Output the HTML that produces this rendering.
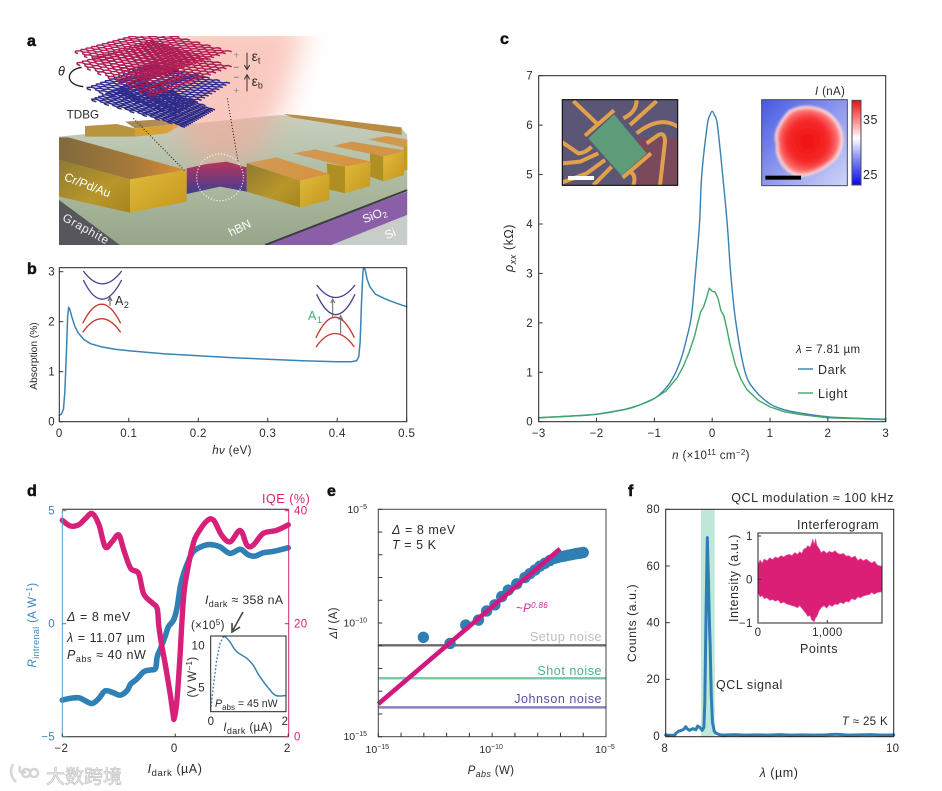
<!DOCTYPE html>
<html lang="en">
<head>
<meta charset="utf-8">
<title>TDBG photodetector figure</title>
<style>
html,body{margin:0;padding:0;background:#fff;width:942px;height:791px;overflow:hidden}
svg{display:block;font-family:"Liberation Sans","Noto Sans CJK SC",sans-serif;fill:#2b2b2b}
.t{font-size:11.5px;letter-spacing:.35px}
.l{font-size:12.5px;letter-spacing:.55px}
.e{font-size:10.5px}
.p{font-size:16px;font-weight:bold;stroke:#111;stroke-width:.5px;fill:#111}
.i{font-style:italic}
</style>
</head>
<body>
<svg id="fig" xmlns="http://www.w3.org/2000/svg" width="942" height="791" viewBox="0 0 942 791">
<defs>
<clipPath id="clipA"><rect x="117" y="48" width="1045" height="627"/></clipPath>
<filter id="blur30" x="-60%" y="-60%" width="220%" height="220%"><feGaussianBlur stdDeviation="42"/></filter>
<filter id="blur3" x="-30%" y="-30%" width="160%" height="160%"><feGaussianBlur stdDeviation="4"/></filter>
<filter id="blurMap" x="-30%" y="-30%" width="160%" height="160%"><feGaussianBlur stdDeviation="6"/></filter>
<linearGradient id="surf" x1="0" y1="0" x2="0" y2="1"><stop offset="0" stop-color="#c8d0bf"/><stop offset=".5" stop-color="#adbba2"/><stop offset="1" stop-color="#97a68a"/></linearGradient>
<linearGradient id="goldFront" x1="0" y1="0" x2="1" y2="1"><stop offset="0" stop-color="#8f7a30"/><stop offset=".6" stop-color="#b8962a"/><stop offset="1" stop-color="#a5861c"/></linearGradient>
<linearGradient id="goldSide" x1="0" y1="0" x2="1" y2="1"><stop offset="0" stop-color="#e0bb3a"/><stop offset="1" stop-color="#c4961e"/></linearGradient>
<linearGradient id="goldTop" x1="0" y1="0" x2="1" y2="0"><stop offset="0" stop-color="#7f6a3c"/><stop offset=".6" stop-color="#a87a38"/><stop offset="1" stop-color="#dc8e34"/></linearGradient>
<linearGradient id="goldTop2" x1="0" y1="0" x2="1" y2="0"><stop offset="0" stop-color="#cf9a5c"/><stop offset="1" stop-color="#d99238"/></linearGradient>
<linearGradient id="trench" x1="0" y1="0" x2="0" y2="1"><stop offset="0" stop-color="#b8345a"/><stop offset="1" stop-color="#3d3d95"/></linearGradient>
<linearGradient id="cbar" x1="0" y1="0" x2="0" y2="1"><stop offset="0" stop-color="#e81010"/><stop offset=".25" stop-color="#ff9090"/><stop offset=".45" stop-color="#ffffff"/><stop offset=".7" stop-color="#8088f0"/><stop offset="1" stop-color="#0808e8"/></linearGradient>
<linearGradient id="mapBg" x1="0" y1="0" x2="1" y2="1"><stop offset="0" stop-color="#4458e4"/><stop offset=".5" stop-color="#8e98ee"/><stop offset="1" stop-color="#d0d5f8"/></linearGradient>
<radialGradient id="blob" cx=".48" cy=".5" r=".56"><stop offset="0" stop-color="#f01010"/><stop offset=".6" stop-color="#f62a2a"/><stop offset="1" stop-color="#ffa0a0"/></radialGradient>
<clipPath id="clipPhoto"><rect x="217" y="224" width="346" height="257"/></clipPath>
<clipPath id="clipMap"><rect x="815" y="224" width="257" height="258"/></clipPath>
</defs>

<!-- panel a -->
<g id="panelA" transform="translate(20 20) scale(.33333)">
<g clip-path="url(#clipA)">
<polygon points="117,350 780,285 1145,325 1162,345 1162,520 750,675 300,675 117,545" fill="url(#surf)"/>
<polygon points="117,540 300,675 117,675" fill="#57565c"/>
<polygon points="735,675 1162,515 1162,585 935,675" fill="#8a5fa8"/>
<polyline points="735,675 1162,510" fill="none" stroke="#3c3c40" stroke-width="6"/>
<polygon points="935,675 1162,585 1162,675" fill="#c9cdc9"/>
<polygon points="790,282 830,285 1145,322 1145,345 1100,338 815,292" fill="#b98c44"/>
<polygon points="195,318 290,312 345,325 345,350 195,350" fill="#b8943c"/>
<polygon points="315,305 420,298 490,310 345,325" fill="#a98a55"/>
<polygon points="345,325 490,310 440,340 345,350" fill="#d8a030"/>
<polygon points="470,0 860,0 790,260 690,430 530,430 440,260" fill="#f6a899" opacity=".62" filter="url(#blur30)"/>
<polygon points="1045,358 1100,348 1170,360 1170,378 1150,382" fill="#cf9a50"/>
<polygon points="1150,380 1170,376 1170,448 1150,452" fill="#c49a20"/>
<polygon points="940,378 995,365 1160,392 1090,410" fill="#d09548"/>
<polygon points="1050,400 1090,410 1090,484 1050,470" fill="#b08f22"/>
<polygon points="1090,410 1152,394 1152,465 1090,484" fill="url(#goldSide)"/>
<polygon points="820,400 885,388 1055,425 975,440" fill="url(#goldTop2)"/>
<polygon points="920,430 975,440 975,520 925,508" fill="#b08f22"/>
<polygon points="975,440 1052,425 1050,498 975,520" fill="url(#goldSide)"/>
<polygon points="680,430 770,412 928,462 840,482" fill="url(#goldTop2)"/>
<polygon points="680,430 840,482 840,562 680,515" fill="url(#goldFront)"/>
<polygon points="840,482 928,462 928,540 840,562" fill="url(#goldSide)"/>
<polygon points="500,445 560,432 620,425 680,442 680,515 600,500 500,522" fill="url(#trench)"/>
<polygon points="117,352 145,352 498,450 330,478 117,420" fill="url(#goldTop)"/>
<polygon points="117,420 330,478 330,578 117,530" fill="url(#goldFront)"/>
<polygon points="330,478 500,450 500,545 330,578" fill="url(#goldSide)"/>
<circle cx="600" cy="472" r="70" fill="none" stroke="#fff" stroke-width="3.5" stroke-dasharray="3 6"/>
<g id="lattices"></g>
<line x1="340" y1="295" x2="497" y2="455" stroke="#111" stroke-width="3" stroke-dasharray="3 6"/>
<line x1="622" y1="235" x2="655" y2="430" stroke="#111" stroke-width="3" stroke-dasharray="3 6"/>
</g>
<path d="M185,142 C135,150 135,195 190,200" fill="none" stroke="#222" stroke-width="4"/>
<text x="114" y="167" font-size="38" class="i" fill="#222">θ</text>
<text x="140" y="295" font-size="35">TDBG</text>
<text x="640" y="116" font-size="30" fill="#8a8a8a">+</text>
<text x="640" y="152" font-size="30" fill="#666">−</text>
<text x="640" y="182" font-size="30" fill="#666">−</text>
<text x="640" y="222" font-size="30" fill="#8a8a8a">+</text>
<path d="M681,98 V145 M673,135 L681,149 L689,135" fill="none" stroke="#333" stroke-width="3"/>
<path d="M681,214 V168 M673,178 L681,164 L689,178" fill="none" stroke="#333" stroke-width="3"/>
<text x="695" y="123" font-size="42">ε<tspan font-size="27" dy="8">t</tspan></text>
<text x="695" y="198" font-size="42">ε<tspan font-size="27" dy="8">b</tspan></text>
<text transform="translate(130 480) rotate(21)" font-size="36" fill="#fff">Cr/Pd/Au</text>
<text transform="translate(125 600) rotate(29)" font-size="36" fill="#eee" letter-spacing="2">Graphite</text>
<text transform="translate(633 650) rotate(-26)" font-size="36" fill="#fff">hBN</text>
<text transform="translate(1033 610) rotate(-21)" font-size="36" fill="#fff">SiO<tspan font-size="25" dy="7">2</tspan></text>
<text transform="translate(1100 658) rotate(-21)" font-size="36" fill="#fff">Si</text>
</g>

<text class="p" x="27" y="46">a</text>
<text class="p" x="27" y="274">b</text>
<text class="p" x="500" y="44">c</text>
<text class="p" x="27" y="496">d</text>
<text class="p" x="327" y="496">e</text>
<text class="p" x="628" y="496">f</text>

<!-- panel b -->
<g id="panelB"></g>
<g transform="translate(20 255) scale(.33333)" fill="none" stroke-width="4">
<path d="M190,48 Q247,125 305,48" stroke="#4a3f90"/>
<path d="M190,75 Q245,190 305,75" stroke="#4a3f90"/>
<path d="M188,205 Q245,90 302,205" stroke="#c23a2c"/>
<path d="M188,232 Q245,150 302,232" stroke="#c23a2c"/>
<path d="M270,152 V132 M264,138 L270,126 L276,138" stroke="#555" stroke-width="3"/>
<path d="M890,90 Q947,165 1005,90" stroke="#4a3f90"/>
<path d="M890,118 Q947,240 1005,118" stroke="#4a3f90"/>
<path d="M888,248 Q945,125 1003,248" stroke="#c23a2c"/>
<path d="M888,276 Q945,195 1003,276" stroke="#c23a2c"/>
<path d="M938,190 V138 M932,144 L938,132 L944,144" stroke="#666" stroke-width="3"/>
<path d="M962,238 V188 M956,194 L962,182 L968,194" stroke="#666" stroke-width="3"/>
</g>
<text class="l" x="115" y="305">A<tspan font-size="9" dy="3">2</tspan></text>
<text class="l" x="308" y="320" fill="#3fae72">A<tspan font-size="9" dy="3">1</tspan></text>
<text class="t" x="232" y="454" text-anchor="middle"><tspan class="i">hν</tspan> (eV)</text>
<text font-size="10.2" transform="translate(37 356) rotate(-90)" text-anchor="middle">Absorption (%)</text>

<!-- panel c -->
<g id="panelC"></g>
<text class="t" x="711" y="459" text-anchor="middle"><tspan class="i">n</tspan> (×10<tspan font-size="8" dy="-4">11</tspan><tspan dy="4"> cm</tspan><tspan font-size="8" dy="-4">−2</tspan><tspan dy="4">)</tspan></text>
<text class="l" transform="translate(513 248) rotate(-90)" text-anchor="middle"><tspan class="i">ρ</tspan><tspan class="i" font-size="9" dy="3">xx</tspan><tspan dy="-3"> (kΩ)</tspan></text>
<text class="t" x="796" y="353"><tspan class="i">λ</tspan> = 7.81 µm</text>
<line x1="798" y1="369" x2="813" y2="369" stroke="#3a80b2" stroke-width="1.4"/>
<text class="l" x="818" y="374">Dark</text>
<line x1="798" y1="393" x2="813" y2="393" stroke="#3fa768" stroke-width="1.4"/>
<text class="l" x="818" y="398">Light</text>

<g transform="translate(490 25) scale(.33333)">
<g clip-path="url(#clipPhoto)">
<rect x="217" y="224" width="346" height="257" fill="#5b5676"/>
<rect x="440" y="340" width="123" height="141" fill="#7a4a5c"/>
<g fill="none" stroke="#e0a04c" stroke-width="12">
<path d="M250,228 L320,295"/>
<path d="M400,280 Q440,262 440,224"/>
<path d="M420,300 L500,228"/>
<path d="M440,325 Q510,270 563,305"/>
<path d="M470,355 L505,330 Q525,320 525,350 L510,481"/>
<path d="M217,352 L265,385 Q285,385 305,365"/>
<path d="M217,415 L270,410 L325,385"/>
<path d="M217,472 L290,445 L345,405"/>
<path d="M310,481 L365,425"/>
<path d="M420,440 Q440,450 430,481"/>
</g>
<polygon points="295,340 372,268 470,385 395,452" fill="#5e9c79"/>
<line x1="285" y1="332" x2="372" y2="256" stroke="#e0a04c" stroke-width="12"/>
<line x1="398" y1="458" x2="483" y2="385" stroke="#e0a04c" stroke-width="12"/>
<rect x="234" y="453" width="78" height="12" fill="#fff"/>
</g>
<rect x="217" y="224" width="346" height="257" fill="none" stroke="#111" stroke-width="3.5"/>
</g>

<g transform="translate(490 25) scale(.33333)">
<g clip-path="url(#clipMap)">
<rect x="815" y="224" width="257" height="258" fill="url(#mapBg)"/>
<path d="M900,262 C950,235 1010,255 1035,290 C1065,330 1055,385 1020,410 C990,435 945,455 915,445 C880,430 860,390 865,355 C855,335 865,300 900,262 Z" fill="#fff" stroke="#fff" stroke-width="12" filter="url(#blur3)"/>
<path d="M900,262 C950,235 1010,255 1035,290 C1065,330 1055,385 1020,410 C990,435 945,455 915,445 C880,430 860,390 865,355 C855,335 865,300 900,262 Z" fill="url(#blob)" filter="url(#blurMap)"/>
<rect x="826" y="452" width="107" height="12" fill="#000"/>
</g>
<rect x="815" y="224" width="257" height="258" fill="none" stroke="#45495e" stroke-width="3"/>
<rect x="1086" y="226" width="27" height="254" fill="url(#cbar)" stroke="#45495e" stroke-width="3"/>
</g>
<text class="t" x="815" y="95"><tspan class="i">I</tspan> (nA)</text>
<text class="l" x="863" y="124">35</text>
<text class="l" x="863" y="179">25</text>

<!-- panel d -->
<g id="panelD"></g>
<text class="l" x="262" y="503" fill="#d6246e">IQE (%)</text>
<text class="l" x="175" y="773" text-anchor="middle"><tspan class="i">I</tspan><tspan font-size="9.5" dy="3">dark</tspan><tspan dy="-3"> (µA)</tspan></text>
<text class="t" transform="translate(36 625) rotate(-90)" text-anchor="middle" fill="#3a86b7"><tspan class="i">R</tspan><tspan font-size="9" dy="3">intrenal</tspan><tspan dy="-3"> (A W</tspan><tspan font-size="8" dy="-4">−1</tspan><tspan dy="4">)</tspan></text>
<text class="l" x="67" y="621"><tspan class="i">Δ</tspan> = 8 meV</text>
<text class="l" x="67" y="642"><tspan class="i">λ</tspan> = 11.07 µm</text>
<text class="l" x="67" y="659"><tspan class="i">P</tspan><tspan font-size="9" dy="3">abs</tspan><tspan dy="-3"> ≈ 40 nW</tspan></text>
<text font-size="12.3" letter-spacing=".35" x="205" y="604"><tspan class="i">I</tspan><tspan font-size="9" dy="3">dark</tspan><tspan dy="-3"> ≈ 358 nA</tspan></text>
<text class="t" x="191" y="629">(×10<tspan font-size="8" dy="-4">5</tspan><tspan dy="4">)</tspan></text>
<path d="M243,612 L233,630 M232,623 L232,632 L240,627" fill="none" stroke="#444" stroke-width="1.6"/>
<g id="insetD"></g>
<text class="t" transform="translate(196 677) rotate(-90)" text-anchor="middle">(V W<tspan font-size="8" dy="-4">−1</tspan><tspan dy="4">)</tspan></text>
<text class="t" x="248" y="731" text-anchor="middle"><tspan class="i">I</tspan><tspan font-size="9" dy="3">dark</tspan><tspan dy="-3"> (µA)</tspan></text>
<text font-size="10.6" x="215" y="707"><tspan class="i">P</tspan><tspan font-size="8" dy="3">abs</tspan><tspan dy="-3"> = 45 nW</tspan></text>

<!-- panel e -->
<g id="panelE"></g>
<text class="t" x="491" y="774" text-anchor="middle"><tspan class="i">P</tspan><tspan class="i" font-size="9" dy="3">abs</tspan><tspan dy="-3"> (W)</tspan></text>
<text class="t" transform="translate(337 623) rotate(-90)" text-anchor="middle"><tspan class="i">ΔI</tspan> (A)</text>
<text class="l" x="392" y="534"><tspan class="i">Δ</tspan> = 8 meV</text>
<text class="l" x="392" y="549"><tspan class="i">T</tspan> = 5 K</text>
<text class="t" x="516" y="612" fill="#c82a90" font-style="italic" font-size="10">~<tspan>P</tspan><tspan font-size="8" dy="-4">0.86</tspan></text>
<text class="l" x="602" y="641" text-anchor="end" fill="#bdbdbd">Setup noise</text>
<text class="l" x="602" y="675" text-anchor="end" fill="#45b583">Shot noise</text>
<text class="l" x="602" y="703" text-anchor="end" fill="#5b4fa0">Johnson noise</text>

<!-- panel f -->
<g id="panelF"></g>
<text class="l" x="894" y="502" text-anchor="end">QCL modulation ≈ 100 kHz</text>
<text class="l" x="779" y="777" text-anchor="middle"><tspan class="i">λ</tspan> (µm)</text>
<text font-size="12.3" letter-spacing=".55" transform="translate(636 623) rotate(-90)" text-anchor="middle">Counts (a.u.)</text>
<text class="l" x="716" y="689">QCL signal</text>
<text class="t" x="888" y="725" text-anchor="end"><tspan class="i">T</tspan> ≈ 25 K</text>
<text class="l" x="797" y="529">Interferogram</text>
<g id="insetF"></g>
<text class="l" x="819" y="653" text-anchor="middle">Points</text>
<text class="l" transform="translate(738 578) rotate(-90)" text-anchor="middle">Intensity (a.u.)</text>

<!-- watermark -->
<g>
<path d="M13,764 Q8,774 16,782 M20,766 Q18,775 26,772 M26,769 a4,4 0 1 0 .1,0 M34,769 a4,4 0 1 0 .1,0" fill="none" stroke="#d4d4d4" stroke-width="2.4"/>
<text x="46" y="783" font-size="19" fill="#f0f0f0" stroke="#c4c4c4" stroke-width=".7" font-family="&quot;Noto Sans CJK SC&quot;,sans-serif">大数跨境</text>
</g>
</svg>

<script>
// ---- panel b data ----
const bEnergy = [0,.003,.006,.008,.01,.012,.0135,.015,.018,.022,.027,.035,.045,.06,.08,.1,.15,.2,.25,.3,.35,.4,.42,.428,.431,.433,.435,.437,.438,.44,.443,.447,.455,.47,.485,.5];
const bAbsorption = [.13,.15,.25,.6,1.3,2.1,2.29,2.25,2.1,1.92,1.78,1.65,1.56,1.5,1.45,1.42,1.36,1.32,1.28,1.25,1.22,1.2,1.2,1.22,1.3,1.6,2.4,3.0,3.08,3.05,2.85,2.7,2.55,2.45,2.37,2.3];
const bXTicks = [0,.1,.2,.3,.4,.5];
const bXLabels = ['0','0.1','0.2','0.3','0.4','0.5'];
const bYTicks = [0,1,2,3];
// ---- panel c data ----
const cDensity = [-3,-2.5,-2,-1.5,-1.25,-1,-.8,-.65,-.53,-.45,-.36,-.29,-.22,-.18,-.085,-.04,0,.04,.09,.18,.26,.32,.41,.57,.75,1,1.25,1.5,2,2.5,3];
const cDark = [.08,.11,.15,.25,.34,.47,.68,.95,1.3,1.65,2.13,3,4,5,6,6.2,6.28,6.2,6,5,4,3,2,1,.62,.36,.24,.18,.1,.07,.05];
const cLightDensity = [-3,-2.5,-2,-1.5,-1.25,-1,-.8,-.6,-.5,-.4,-.3,-.25,-.2,-.15,-.1,-.05,0,.05,.1,.15,.2,.25,.3,.4,.5,.6,.8,1,1.25,1.5,2,2.5,3];
const cLight = [.08,.11,.15,.25,.34,.47,.62,.9,1.12,1.4,1.75,2,2.22,2.32,2.5,2.7,2.64,2.62,2.5,2.25,2.15,1.9,1.6,1.15,.85,.65,.43,.3,.2,.15,.08,.06,.04];
const cXTicks = [-3,-2,-1,0,1,2,3];
const cYTicks = [0,1,2,3,4,5,6,7];
// ---- panel d data ----
const dRCurrent = [-2,-1.85,-1.7,-1.6,-1.47,-1.35,-1.24,-1.1,-.97,-.85,-.79,-.68,-.56,-.45,-.35,-.32,-.26,-.18,-.12,-.03,.03,.09,.15,.24,.32,.47,.62,.79,.97,1.15,1.29,1.41,1.56,1.74,2];
const dResponsivity = [-3.38,-3.3,-3.28,-3.4,-3.53,-3.3,-2.97,-3.05,-3.16,-2.95,-2.67,-2.45,-2.13,-2.05,-1.98,-1.47,-1.09,-.57,-.13,.16,.68,1.64,2.23,2.82,3.19,3.42,3.5,3.4,3.11,3.29,3.05,2.99,3.14,3.2,3.36];
const dIqeCurrent = [-2,-1.86,-1.71,-1.59,-1.47,-1.35,-1.24,-1.12,-1,-.91,-.79,-.65,-.56,-.41,-.32,-.29,-.235,-.18,-.09,-.04,-.02,.03,.08,.15,.24,.32,.38,.56,.68,.82,.97,1.15,1.27,1.38,1.56,1.79,2];
const dIqe = [38.3,37.3,37.5,38.6,39.5,37.5,33.6,34.5,35.7,33,29.8,28.9,25.3,23.7,22.7,19.5,15.9,13,7.6,4.1,3.2,6.5,13.6,25,30.7,34.2,35.7,38.2,38.3,35.7,34.5,36.5,33.9,33.9,36,36.5,37.5];
const dXTicks = [-2,0,2];
const dRTicks = [-5,0,5];
const dIqeTicks = [0,20,40];
const dRiseCurrent = [0,.07,.16,.25,.34];
const dRiseValue = [2.28,5.08,8.28,10.28,11.08];
const dFallCurrent = [.38,.51,.69,.96,1.13,1.31,1.58,1.75,2];
const dFallValue = [11.1,10.5,9.3,8.5,7.7,6.3,4.7,4,4];
// ---- panel e data ----
const ePowerExp = [-13.02,-11.85,-11.16,-10.6,-10.24,-9.88,-9.58,-9.29,-8.92,-8.56,-8.34,-8.12,-7.9,-7.68,-7.46,-7.24,-7.1,-6.95,-6.8,-6.65,-6.5,-6.36,-6.25,-6.15,-6.07,-6];
const eCurrentExp = [-10.63,-10.9,-10.09,-9.87,-9.47,-9.2,-8.84,-8.55,-8.28,-8,-7.83,-7.67,-7.5,-7.37,-7.25,-7.15,-7.11,-7.08,-7.05,-7.02,-6.99,-6.96,-6.94,-6.93,-6.91,-6.9];
const eFitPowerExp = [-15,-7.02];
const eFitCurrentExp = [-13.56,-6.74];
const eNoiseNames = ['setup-noise-line','shot-noise-line','johnson-noise-line'];
const eNoiseLevels = [-10.98,-12.43,-13.71];
const eDecadeTicks = [-15,-14,-13,-12,-11,-10,-9,-8,-7,-6,-5];
const eMajorTicks = [-15,-10,-5];
// ---- panel f data ----
const fLambda = [8,8.02,8.05,8.08,8.09,8.11,8.14,8.16,8.175,8.19,8.21,8.24,8.265,8.28,8.3,8.32,8.335,8.343,8.35,8.355,8.36,8.365,8.37,8.375,8.38,8.385,8.39,8.395,8.4,8.41,8.425,8.44,8.47,8.5,8.6,8.7,8.8,8.9,9,9.1,9.2,9.3,9.4,9.5,9.6,9.7,9.8,9.9,10];
const fCounts = [.4,.3,.2,.3,1,1.6,2,2.4,3.3,2.5,2,2.6,2.2,3.5,3,2,3,12,32,46,58,70,62,55,46,38,32,22,14,5,1.8,1,.5,.3,.5,.3,.4,.3,.5,.3,.4,.3,.4,.6,.3,.4,.5,.3,.4];
const fBand = [8.31,8.43];
const fXTicks = [8,10];
const fYTicks = [0,20,40,60,80];
const fInsetPoints = [0,30,60,90,130,170,210,250,290,330,370,410,450,490,530,570,600,630,660,690,720,750,770,790,810,830,850,880,910,950,990,1030,1070,1110,1150,1190,1230,1270,1310,1350,1400,1440,1480,1520,1560,1600,1640,1680,1720,1788];
const fInsetUpper = [.33,.45,.38,.47,.43,.5,.46,.52,.49,.55,.52,.56,.58,.55,.62,.58,.64,.6,.7,.72,.78,.74,.82,.93,.8,.94,.78,.72,.62,.66,.6,.65,.62,.66,.6,.58,.6,.54,.55,.5,.54,.44,.48,.43,.47,.42,.38,.42,.33,.3];
const fInsetLower = [-.3,-.4,-.37,-.44,-.42,-.48,-.46,-.5,-.47,-.55,-.52,-.56,-.58,-.6,-.62,-.65,-.6,-.66,-.72,-.78,-.85,-.82,-.92,-.95,-.97,-.88,-.85,-.72,-.65,-.6,-.66,-.58,-.62,-.56,-.58,-.52,-.56,-.5,-.52,-.44,-.47,-.4,-.42,-.38,-.36,-.35,-.3,-.34,-.3,-.28];
const fInsetXTicks = [0,1000];
const fInsetXLabels = ['0','1,000'];
const fInsetYTicks = [-1,0,1];

const NS = 'http://www.w3.org/2000/svg';
function add(parent, tag, attrs){
  const el = document.createElementNS(NS, tag);
  for (const k in attrs) el.setAttribute(k, attrs[k]);
  parent.appendChild(el);
  return el;
}
function linear(d0,d1,r0,r1){ return v => r0 + (v-d0)*(r1-r0)/(d1-d0); }
function pathFrom(xs, ys, fx, fy){
  return xs.map((x,i)=>(i?'L':'M')+fx(x).toFixed(2)+','+fy(ys[i]).toFixed(2)).join(' ');
}
function smoothPath(xs, ys, fx, fy){
  const p = xs.map((x,i)=>[fx(x),fy(ys[i])]);
  let d = 'M'+p[0][0].toFixed(2)+','+p[0][1].toFixed(2);
  for (let i=0;i<p.length-1;i++){
    const a=p[Math.max(i-1,0)], b=p[i], c=p[i+1], e=p[Math.min(i+2,p.length-1)];
    d += ' C'+(b[0]+(c[0]-a[0])/6).toFixed(2)+','+(b[1]+(c[1]-a[1])/6).toFixed(2)+' '+(c[0]-(e[0]-b[0])/6).toFixed(2)+','+(c[1]-(e[1]-b[1])/6).toFixed(2)+' '+c[0].toFixed(2)+','+c[1].toFixed(2);
  }
  return d;
}
function drawSeries(g, xs, ys, fx, fy, name, color, width, extra){
  const el = add(g,'path',Object.assign({d:pathFrom(xs,ys,fx,fy),fill:'none',stroke:color,'stroke-width':width,'stroke-linejoin':'round','stroke-linecap':'round'},extra||{}));
  
  
  return el;
}
function drawFrame(g, b, name, color){
  const el = add(g,'rect',{x:b.l,y:b.t,width:b.r-b.l,height:b.b-b.t,fill:'none',stroke:color||'#222','stroke-width':1});
  
  
  return el;
}
function tickLine(g,x1,y1,x2,y2,color){
  const el = add(g,'line',{x1:x1,y1:y1,x2:x2,y2:y2,stroke:color||'#333','stroke-width':1});
  
  
  return el;
}
function tickText(g,x,y,str,anchor,color,cls){
  const el = add(g,'text',{x:x,y:y,'text-anchor':anchor,'class':cls||'t'});
  if (color) el.setAttribute('fill', color);
  el.textContent = str;
  
  
  return el;
}
function fmt(v){ return v<0 ? '−'+(-v) : String(v); }

// ---- panel b ----
(function(){
  const g = document.getElementById('panelB');
  const box = {l:59.3,r:406.7,t:267.7,b:421.7};
  const x = linear(0,.5,box.l,box.r), y = linear(0,3,421.7,271.7);
  drawSeries(g,bEnergy,bAbsorption,x,y,'absorption-curve','#3a84b4',1.5);
  drawFrame(g,box,'b-plot-frame');
  bXTicks.forEach((t,i)=>{ tickLine(g,x(t),box.b,x(t),box.b-4); tickText(g,x(t),437,bXLabels[i],'middle'); });
  bYTicks.forEach(t=>{ tickLine(g,box.l,y(t),box.l+4,y(t)); tickText(g,55,y(t)+4,fmt(t),'end'); });
})();

// ---- panel c ----
(function(){
  const g = document.getElementById('panelC');
  const box = {l:538.7,r:885.7,t:75.7,b:421.7};
  const x = linear(-3,3,box.l,box.r), y = linear(0,7,box.b,box.t);
  drawSeries(g,cDensity,cDark,x,y,'dark-curve','#3a80b2',1.4,{d:smoothPath(cDensity,cDark,x,y)});
  drawSeries(g,cLightDensity,cLight,x,y,'light-curve','#3fa768',1.4);
  drawFrame(g,box,'c-plot-frame');
  cXTicks.forEach(t=>{ tickLine(g,x(t),box.b,x(t),box.b-4); tickText(g,x(t),437,fmt(t),'middle'); });
  cYTicks.forEach(t=>{ tickLine(g,box.l,y(t),box.l+4,y(t)); tickText(g,533,y(t)+4,fmt(t),'end'); });
})();

// ---- panel d ----
(function(){
  const g = document.getElementById('panelD');
  const box = {l:62.3,r:288.7,t:509.3,b:736.7};
  const x = linear(-2,2,box.l,box.r-.5), yR = linear(-5,5,736.7,510.7), yI = linear(0,40,736.7,510.7);
  drawSeries(g,dRCurrent,dResponsivity,x,yR,'responsivity-curve','#2f80b5',5.6,{d:smoothPath(dRCurrent,dResponsivity,x,yR)});
  drawSeries(g,dIqeCurrent,dIqe,x,yI,'iqe-curve','#d6207a',5.4,{d:smoothPath(dIqeCurrent,dIqe,x,yI)});
  const top = tickLine(g,box.l,box.t,box.r,box.t,'#222');
  
  const bot = tickLine(g,box.l,box.b,box.r,box.b,'#222');
  
  const lft = tickLine(g,box.l,box.t,box.l,box.b,'#5b9cc8');
  
  const rgt = tickLine(g,box.r,box.t,box.r,box.b,'#d6246e');
  
  dXTicks.forEach(t=>{ tickLine(g,x(t),box.b,x(t),box.b-3); tickText(g,x(t)-1,752,fmt(t),'middle'); });
  dRTicks.forEach(t=>{ tickLine(g,box.l,yR(t),box.l+4,yR(t),'#3a86b7'); tickText(g,55,yR(t)+4,fmt(t),'end','#3a86b7'); });
  dIqeTicks.forEach(t=>{ tickLine(g,box.r,yI(t),box.r-4,yI(t),'#d6246e'); tickText(g,294,yI(t)+4,fmt(t),'start','#d6246e'); });

  const h = document.getElementById('insetD');
  const ibox = {l:210.7,r:286,t:636,b:711.7};
  const ix = linear(0,2,ibox.l,ibox.r-.5), iy = linear(5,10,687.3,645.7);
  drawSeries(h,dRiseCurrent,dRiseValue,ix,iy,'inset-rise-dotted','#3a84b4',1.5,{'stroke-dasharray':'.5 3.2'});
  drawSeries(h,dFallCurrent,dFallValue,ix,iy,'inset-fall-curve','#3a84b4',1.5,{d:smoothPath(dFallCurrent,dFallValue,ix,iy)});
  drawFrame(h,ibox,'d-inset-frame');
  tickText(h,205,iy(10)+4,'10','end');
  tickText(h,205,iy(5)+4,'5','end');
  tickText(h,211,725,'0','middle');
  tickText(h,285,725,'2','middle');
})();

// ---- panel e ----
(function(){
  const g = document.getElementById('panelE');
  const box = {l:378.3,r:606,t:509.3,b:736.7};
  const x = linear(-15,-5,box.l,box.r), y = linear(-15,-5,box.b,box.t);
  const noiseColors = ['#6a6a6a','#7cc9a6','#8d7fbe'];
  eNoiseLevels.forEach((v,i)=>{
    const ln = add(g,'line',{x1:box.l,x2:box.r,y1:y(v),y2:y(v),stroke:noiseColors[i],'stroke-width':2.4});
    
    
  });
  ePowerExp.forEach((p,i)=>{
    const c = add(g,'circle',{cx:x(p),cy:y(eCurrentExp[i]),r:5.7,fill:'#2f7fb5'});
    
    
  });
  drawSeries(g,eFitPowerExp,eFitCurrentExp,x,y,'power-law-fit','#d0187f',4.6,{'stroke-linecap':'butt'});
  drawFrame(g,box,'e-plot-frame','#444');
  eDecadeTicks.forEach(t=>{
    tickLine(g,box.l,y(t),box.l+4,y(t));
    tickLine(g,x(t),box.b,x(t),box.b-4);
  });
  eMajorTicks.forEach(t=>{
    const yl = tickText(g,367,y(t)+3.5,'10','end',null,'e');
    const ys = add(yl,'tspan',{'font-size':'7',dy:'-4'});
    ys.textContent = fmt(t);
    
    
    const xl = tickText(g,x(t)-1,753,'10','middle',null,'e');
    const xs = add(xl,'tspan',{'font-size':'7',dy:'-4'});
    xs.textContent = fmt(t);
    
    
  });
})();

// ---- panel f ----
(function(){
  const g = document.getElementById('panelF');
  const box = {l:665.7,r:893.7,t:509.3,b:736.7};
  const x = linear(8,10,box.l,box.r), y = linear(0,80,736,509.3);
  const band = add(g,'rect',{x:x(fBand[0]),y:box.t,width:x(fBand[1])-x(fBand[0]),height:box.b-box.t,fill:'#bfe8d8'});
  
  
  drawSeries(g,fLambda,fCounts,x,y,'spectrum-curve','#2f7fb5',3);
  drawFrame(g,box,'f-plot-frame');
  fXTicks.forEach(t=>{ tickText(g,x(t)-1,752,fmt(t),'middle'); });
  fYTicks.forEach(t=>{ tickLine(g,box.l,y(t),box.l+4,y(t)); tickText(g,660,y(t)+3.8,fmt(t),'end'); });

  const h = document.getElementById('insetF');
  const ibox = {l:758,r:882,t:533,b:623};
  const ix = linear(0,1788,ibox.l,ibox.r), iy = linear(-1,1,623,536);
  const up = fInsetPoints.map((p,i)=>ix(p).toFixed(1)+','+iy(fInsetUpper[i]).toFixed(1));
  const dn = fInsetPoints.map((p,i)=>ix(p).toFixed(1)+','+iy(fInsetLower[i]).toFixed(1)).reverse();
  const area = add(h,'polygon',{points:up.concat(dn).join(' '),fill:'#dc1f76',stroke:'#e85a9c','stroke-width':.6});
  
  
  drawFrame(h,ibox,'f-inset-frame');
  fInsetXTicks.forEach((t,i)=>{ tickLine(h,ix(t),ibox.b,ix(t),ibox.b-3); tickText(h,ix(t),636,fInsetXLabels[i],'middle'); });
  fInsetYTicks.forEach(t=>{ tickLine(h,ibox.l,iy(t),ibox.l+3,iy(t)); tickText(h,752.7,iy(t)+4,fmt(t),'end'); });
})();

// ---- panel a moiré lattice decoration ----
(function(){
  const g = document.getElementById('lattices');
  const layers = [
    {name:'bottom-blue-lattice',c:[[210,240],[370,175],[585,270],[495,322]],col:'#2b2a86'},
    {name:'upper-blue-lattice',c:[[195,205],[400,130],[630,190],[470,285]],col:'#2f2c8e'},
    {name:'lower-red-lattice',c:[[165,130],[400,62],[635,140],[400,235]],col:'#a81c50'},
    {name:'top-red-lattice',c:[[160,95],[400,30],[635,95],[370,185]],col:'#b01e55'}
  ];
  const N = 15;
  layers.forEach(L=>{
    const [A,B,C,D] = L.c;
    const map = (u,v)=>{
      const x=(1-u)*(1-v)*A[0]+u*(1-v)*B[0]+u*v*C[0]+(1-u)*v*D[0];
      const y=(1-u)*(1-v)*A[1]+u*(1-v)*B[1]+u*v*C[1]+(1-u)*v*D[1];
      return x.toFixed(1)+','+y.toFixed(1);
    };
    let d='';
    for(let i=0;i<N;i++){ for(let j=0;j<N;j++){
      const u=(i+(j%2)*.5)/N, v=j/N, s=1/N;
      if(u+s>1) continue;
      d+='M'+map(u,v+s*.33)+'L'+map(u+s*.5,v)+'L'+map(u+s,v+s*.33)+'L'+map(u+s,v+s*1.0)+'M'+map(u,v+s*.33)+'L'+map(u,v+s*1.0);
    }}
    const p = add(g,'path',{d:d,fill:'none',stroke:L.col,'stroke-width':4.4});
    
    
  });
})();
</script>
</body>
</html>
